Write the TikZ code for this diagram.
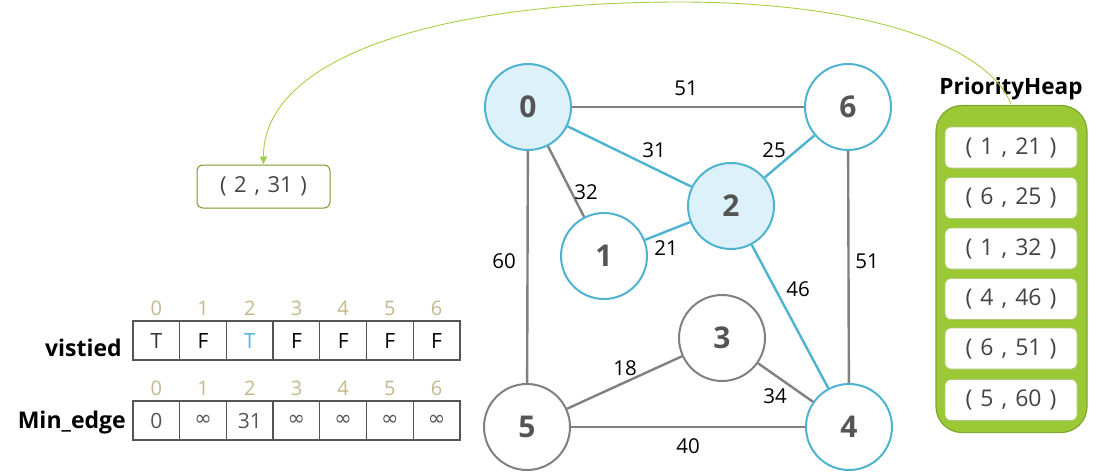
\documentclass[tikz,border=0pt]{standalone}
\usepackage{fontspec}
\setmainfont{Open Sans}
\newfontfamily\symfont{DejaVu Sans}
\usetikzlibrary{arrows.meta}
\definecolor{nblue}{HTML}{4DB3CF}
\definecolor{nfill}{HTML}{DDF1FB}
\definecolor{egray}{HTML}{808080}
\definecolor{ntext}{HTML}{555555}
\definecolor{idx}{HTML}{C4B78C}
\definecolor{tblue}{HTML}{4DB8E8}
\definecolor{hgreen}{HTML}{9BC936}
\definecolor{hgreenD}{HTML}{7FA52C}
\definecolor{pgreen}{HTML}{7A9A2A}
\definecolor{agreen}{HTML}{A5D044}
\definecolor{celld}{HTML}{555555}
\newcommand{\infsym}{{\symfont\char"221E}}
\newcommand{\gapsp}{\hspace{0.35em}}
\tikzset{
  vtx/.style={circle, minimum size=86pt, inner sep=0pt, line width=2pt, font=\fontsize{30}{32}\selectfont\bfseries, text=ntext},
  vblue/.style={vtx, draw=nblue, fill=white},
  vbluef/.style={vtx, draw=nblue, fill=nfill},
  vgray/.style={vtx, draw=egray, fill=white},
  gedge/.style={draw=egray, line width=2.4pt},
  bedge/.style={draw=nblue, line width=2.4pt},
  elab/.style={font=\fontsize{20.5}{22}\selectfont, text=black, inner sep=0pt},
  cell/.style={draw=celld, line width=1.3pt, minimum width=46.71pt, minimum height=39pt, inner sep=0pt, font=\fontsize{21}{23}\selectfont},
  idxlab/.style={font=\fontsize{20}{22}\selectfont, text=idx, inner sep=0pt},
  rowlab/.style={font=\fontsize{23}{25}\selectfont\bfseries, anchor=east, inner sep=0pt},
  item/.style={draw=hgreenD!60, fill=white, rounded corners=6pt, minimum width=132pt, minimum height=41pt, inner sep=0pt, font=\fontsize{23}{25}\selectfont, text=ntext!80!black, line width=0.8pt},
}
\begin{document}
\begin{tikzpicture}[x=1pt,y=-1pt]
\useasboundingbox (0,0) rectangle (1097,474);

% graph nodes
\node[vbluef] (n0) at (528,107) {0};
\node[vblue]  (n6) at (848,107) {6};
\node[vbluef] (n2) at (731,206) {2};
\node[vblue]  (n1) at (604,256) {1};
\node[vgray]  (n3) at (722,338) {3};
\node[vgray]  (n5) at (527,427) {5};
\node[vblue]  (n4) at (849,427) {4};

% edges
\draw[gedge] (n0) -- (n6);
\draw[bedge] (n0) -- (n2);
\draw[gedge] (n0) -- (n1);
\draw[bedge] (n2) -- (n6);
\draw[bedge] (n1) -- (n2);
\draw[gedge] (n0) -- (n5);
\draw[gedge] (n6) -- (n4);
\draw[bedge] (n2) -- (n4);
\draw[gedge] (n3) -- (n5);
\draw[gedge] (n3) -- (n4);
\draw[gedge] (n5) -- (n4);

% edge labels
\node[elab] (l06) at (686,88) {51};
\node[elab] (l02) at (654,150) {31};
\node[elab] (l01) at (586,192) {32};
\node[elab] (l26) at (774,150) {25};
\node[elab] (l12) at (666,248) {21};
\node[elab] (l05) at (504,261) {60};
\node[elab] (l64) at (867,261) {51};
\node[elab] (l24) at (798,289) {46};
\node[elab] (l35) at (625,368) {18};
\node[elab] (l34) at (775,396) {34};
\node[elab] (l54) at (688,446) {40};

% tables
\node[rowlab] (vis) at (122,348) {vistied};
\node[rowlab] (mine) at (126,423) {Min\_edge};
\foreach \i/\v/\m in {0/{\textcolor{black!80}{T}}/0,1/F/\infsym,2/{\textcolor{tblue}{T}}/31,3/F/\infsym,4/F/\infsym,5/F/\infsym,6/F/\infsym}{
  \pgfmathsetmacro{\cx}{133+23.355+46.71*\i}
  \node[idxlab] (vi\i) at (\cx,308) {\i};
  \node[cell] (v\i) at (\cx,340.5) {\v};
  \node[idxlab] (mi\i) at (\cx,388) {\i};
  \node[cell, text=ntext] (m\i) at (\cx,420.5) {\m};
}

% popped pair
\node[draw=pgreen, line width=1pt, rounded corners=6pt, minimum width=133pt, minimum height=43pt, inner sep=0pt, font=\fontsize{22}{24}\selectfont, text=ntext!80!black] (pair) at (263.5,186.5) {(\gapsp2\gapsp,\gapsp31\gapsp)};

% priority heap
\node[font=\fontsize{22.5}{24}\selectfont\bfseries, inner sep=0pt] (title) at (1011,89) {PriorityHeap};
\node[draw=hgreenD, fill=hgreen, line width=1.2pt, rounded corners=26pt, minimum width=151pt, minimum height=327pt, inner sep=0pt] (heap) at (1011.5,269) {};
\node[item] (h1) at (1011,147.5) {(\gapsp1\gapsp,\gapsp21\gapsp)};
\node[item] (h2) at (1011,198) {(\gapsp6\gapsp,\gapsp25\gapsp)};
\node[item] (h3) at (1011,248.5) {(\gapsp1\gapsp,\gapsp32\gapsp)};
\node[item] (h4) at (1011,299) {(\gapsp4\gapsp,\gapsp46\gapsp)};
\node[item] (h5) at (1011,348.5) {(\gapsp6\gapsp,\gapsp51\gapsp)};
\node[item] (h6) at (1011,400) {(\gapsp5\gapsp,\gapsp60\gapsp)};

% arrow
\coordinate (cs) at (1011,104);
\draw[agreen, line width=0.9pt, -{Triangle[length=8pt,width=7pt]}] (cs) .. controls (985,40) and (850,2) .. (680,2) .. controls (430,2) and (263,60) .. (pair.north);
\end{tikzpicture}
\end{document}
